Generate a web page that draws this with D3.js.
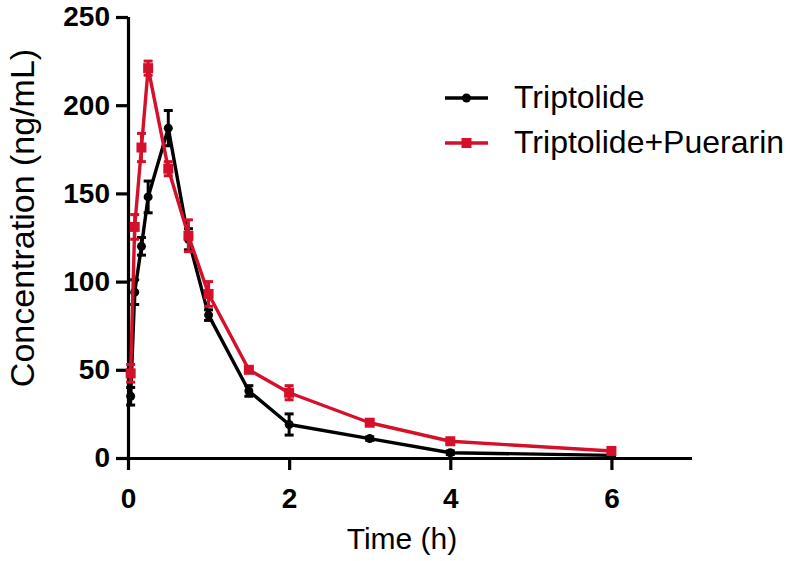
<!DOCTYPE html>
<html><head><meta charset="utf-8">
<script src="https://cdn.jsdelivr.net/npm/d3@7"></script>
<style>body{margin:0;background:#fff}svg{display:block}</style>
</head><body>
<svg id="c" width="800" height="561"></svg>
<script>
const times = [0.033, 0.083, 0.167, 0.25, 0.5, 0.75, 1, 1.5, 2, 3, 4, 6];
const triptolide = [35, 94, 120, 148, 187, 124, 81, 38, 19, 11, 3, 1.5];
const triptolideSD = [5, 7, 5, 9, 10, 6, 3, 3, 6, 1, 1, 0.5];
const puerarin = [48, 131, 176, 221, 164, 126, 93, 50, 37, 20, 9.5, 4];
const puerarinSD = [5, 7, 8, 4, 4, 9, 7, 1, 4, 1, 1, 1];
const xTicks = [0, 2, 4, 6];
const yTicks = [0, 50, 100, 150, 200, 250];
const seriesNames = ["Triptolide", "Triptolide+Puerarin"];

const svg = d3.select("#c");
const x = d3.scaleLinear().domain([0, 7]).range([128, 692]);
const y = d3.scaleLinear().domain([0, 250]).range([458, 17]);
const font = "'Liberation Sans', Arial, Helvetica, sans-serif";
const fmt = d3.format("d");

const xAxis = svg.append("g").attr("transform", "translate(0,458)")
  .call(d3.axisBottom(x).tickValues(xTicks).tickFormat(fmt).tickSize(12).tickSizeOuter(0).tickPadding(18));
const yAxis = svg.append("g").attr("transform", "translate(128,0)")
  .call(d3.axisLeft(y).tickValues(yTicks).tickFormat(fmt).tickSize(12).tickSizeOuter(0).tickPadding(6));
[xAxis, yAxis].forEach(a => {
  a.select(".domain").attr("stroke", "#000").attr("stroke-width", 3.2);
  a.selectAll(".tick line").attr("stroke", "#000").attr("stroke-width", 3.2);
  a.selectAll(".tick text").attr("fill", "#000").style("font-family", font)
   .style("font-size", "28px").style("font-weight", "bold");
});
xAxis.select(".domain").attr("d", `M126.4,0.5H692`);
yAxis.select(".domain").attr("d", `M0.5,${y(250)}V460`);

const series = [
  {name: seriesNames[0], vals: triptolide, sd: triptolideSD, color: "#000000", shape: "circle"},
  {name: seriesNames[1], vals: puerarin, sd: puerarinSD, color: "#d5102a", shape: "square"}
];

const line = d3.line().x(d => x(d[0])).y(d => y(d[1]));
series.forEach(s => {
  const pts = times.map((t, i) => [t, s.vals[i], s.sd[i]]);
  const g = svg.append("g");
  g.append("path").datum(pts).attr("d", line).attr("fill", "none")
    .attr("stroke", s.color).attr("stroke-width", 3.4).attr("stroke-linejoin", "round");
  const eb = g.selectAll(".eb").data(pts).enter().append("g");
  eb.append("line").attr("x1", d => x(d[0])).attr("x2", d => x(d[0]))
    .attr("y1", d => y(d[1] - d[2])).attr("y2", d => y(d[1] + d[2]))
    .attr("stroke", s.color).attr("stroke-width", 3);
  [1, -1].forEach(sg => {
    eb.append("line").attr("x1", d => x(d[0]) - 4.5).attr("x2", d => x(d[0]) + 4.5)
      .attr("y1", d => y(d[1] + sg * d[2])).attr("y2", d => y(d[1] + sg * d[2]))
      .attr("stroke", s.color).attr("stroke-width", 3);
  });
  if (s.shape === "circle") {
    g.selectAll(".m").data(pts).enter().append("circle")
      .attr("cx", d => x(d[0])).attr("cy", d => y(d[1])).attr("r", 4.5).attr("fill", s.color);
  } else {
    g.selectAll(".m").data(pts).enter().append("rect")
      .attr("x", d => x(d[0]) - 5).attr("y", d => y(d[1]) - 5)
      .attr("width", 10).attr("height", 10).attr("fill", s.color);
  }
});

// legend
const lg = svg.append("g");
series.forEach((s, i) => {
  const yy = 98 + i * 45;
  lg.append("line").attr("x1", 445).attr("x2", 488).attr("y1", yy).attr("y2", yy)
    .attr("stroke", s.color).attr("stroke-width", 3.4);
  if (s.shape === "circle") lg.append("circle").attr("cx", 466.5).attr("cy", yy).attr("r", 4.5).attr("fill", s.color);
  else lg.append("rect").attr("x", 461.5).attr("y", yy - 5).attr("width", 10).attr("height", 10).attr("fill", s.color);
  lg.append("text").attr("x", 514).attr("y", yy + 10).text(s.name)
    .style("font-family", font).style("font-size", "32px").attr("fill", "#000");
});

svg.append("text").attr("x", 402).attr("y", 549).attr("text-anchor", "middle")
  .style("font-family", font).style("font-size", "30px").text("Time (h)");
svg.append("text").attr("transform", "translate(34,218) rotate(-90)").attr("text-anchor", "middle")
  .style("font-family", font).style("font-size", "34px").text("Concentration (ng/mL)");
</script>
</body></html>
